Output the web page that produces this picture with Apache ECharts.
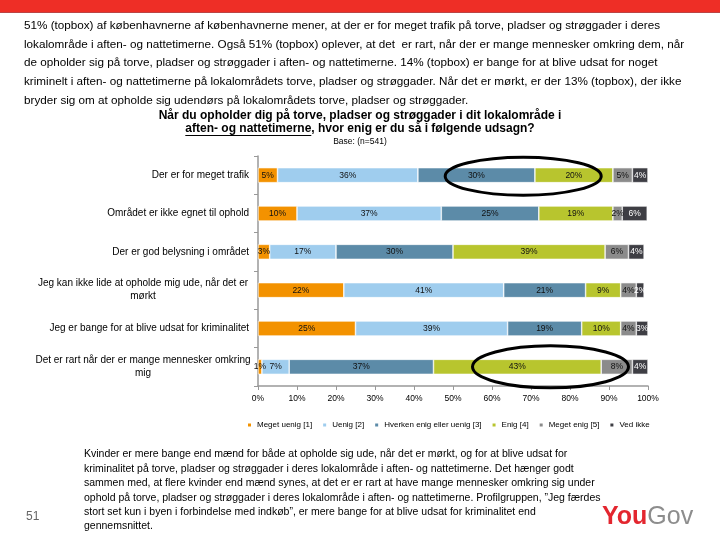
<!DOCTYPE html>
<html>
<head>
<meta charset="utf-8">
<script src="https://cdn.jsdelivr.net/npm/echarts@6/dist/echarts.min.js"></script>
<style>
  html, body { margin: 0; padding: 0; background: #fff; }
  #chart { width: 720px; height: 540px; }
</style>
</head>
<body>
<div id="chart"></div>
<script>
// categories top to bottom
var categories = [
  "Der er for meget trafik",
  "Området er ikke egnet til ophold",
  "Der er god belysning i området",
  "Jeg kan ikke lide at opholde mig ude, når det er\nmørkt",
  "Jeg er bange for at blive udsat for kriminalitet",
  "Det er rart når der er mange mennesker omkring\nmig"
];
var seriesNames = ["Meget uenig [1]", "Uenig [2]", "Hverken enig eller uenig [3]", "Enig [4]", "Meget enig [5]", "Ved ikke"];
var meget_uenig = [5, 10, 3, 22, 25, 1];
var uenig = [36, 37, 17, 41, 39, 7];
var hverken = [30, 25, 30, 21, 19, 37];
var enig = [20, 19, 39, 9, 10, 43];
var meget_enig = [5, 2.4, 6, 4, 4, 8];
var ved_ikke = [4, 6.4, 4, 2, 3, 4];
var xTicks = [0, 10, 20, 30, 40, 50, 60, 70, 80, 90, 100];
// ellipse annotations: [centre value %, category index]
var ringTop = [68, 0];
var ringBottom = [75, 5];

var colors = ["#F39200", "#9FCDEE", "#5C8BA8", "#B8C52E", "#8B8B8B", "#3E3E44"];
var allData = [meget_uenig, uenig, hverken, enig, meget_enig, ved_ikke];

var topText = [
  "51% (topbox) af københavnerne af københavnerne mener, at der er for meget trafik på torve, pladser og strøggader i deres",
  "lokalområde i aften- og nattetimerne. Også 51% (topbox) oplever, at det  er rart, når der er mange mennesker omkring dem, når",
  "de opholder sig på torve, pladser og strøggader i aften- og nattetimerne. 14% (topbox) er bange for at blive udsat for noget",
  "kriminelt i aften- og nattetimerne på lokalområdets torve, pladser og strøggader. Når det er mørkt, er der 13% (topbox), der ikke",
  "bryder sig om at opholde sig udendørs på lokalområdets torve, pladser og strøggader."
];
var bottomText = [
  "Kvinder er mere bange end mænd for både at opholde sig ude, når det er mørkt, og for at blive udsat for",
  "kriminalitet på torve, pladser og strøggader i deres lokalområde i aften- og nattetimerne. Det hænger godt",
  "sammen med, at flere kvinder end mænd synes, at det er er rart at have mange mennesker omkring sig under",
  "ophold på torve, pladser og strøggader i deres lokalområde i aften- og nattetimerne. Profilgruppen, ”Jeg færdes",
  "stort set kun i byen i forbindelse med indkøb”, er mere bange for at blive udsat for kriminalitet end",
  "gennemsnittet."
];
var bodyFont = '"Liberation Sans", sans-serif';
var chartFont = '"Liberation Sans", Arial, sans-serif';

function measure(txt, font) {
  var c = document.createElement("canvas").getContext("2d");
  c.font = font;
  return c.measureText(txt).width;
}

var chart = echarts.init(document.getElementById("chart"));

var series = seriesNames.map(function (name, i) {
  return {
    name: name,
    type: "bar",
    stack: "total",
    barWidth: 15,
    data: allData[i],
    itemStyle: { color: colors[i], borderColor: "#fff", borderWidth: 0.6 },
    label: {
      show: true,
      position: "inside",
      fontSize: 8.5,
      fontFamily: chartFont,
      color: i == 5 ? "#fff" : "#111",
      formatter: function (p) { return Math.round(p.value) + "%"; }
    }
  };
});

// text graphics
var graphics = [
  { type: "rect", shape: { x: 0, y: 0, width: 720, height: 12 }, style: { fill: "#EE2E26" } },
  { type: "rect", shape: { x: 0, y: 12, width: 720, height: 1 }, style: { fill: "#B44" } }
];
topText.forEach(function (t, i) {
  graphics.push({
    type: "text", left: 24, top: 20 + i * 18.6,
    style: { text: t, font: "11.7px " + bodyFont, fill: "#000" }
  });
});
bottomText.forEach(function (t, i) {
  graphics.push({
    type: "text", left: 84, top: 449 + i * 14.4,
    style: { text: t, font: "10.5px " + bodyFont, fill: "#000" }
  });
});

var titleFont = "bold 12px " + chartFont;
var line2 = "aften- og nattetimerne, hvor enig er du så i følgende udsagn?";
var w2 = measure(line2, titleFont);
var wu = measure("aften- og nattetimerne", titleFont);
var l2x = 360 - w2 / 2;
var logoFont = "bold 25px " + chartFont;
graphics.push(
  { type: "text", x: 360, y: 116, style: { text: "Når du opholder dig på torve, pladser og strøggader i dit lokalområde i", font: titleFont, fill: "#000", align: "center", verticalAlign: "middle" } },
  { type: "text", x: 360, y: 129, style: { text: line2, font: titleFont, fill: "#000", align: "center", verticalAlign: "middle" } },
  { type: "line", shape: { x1: l2x, y1: 135.5, x2: l2x + wu, y2: 135.5 }, style: { stroke: "#000", lineWidth: 1 } },
  { type: "text", x: 360, y: 142, style: { text: "Base: (n=541)", font: "8.5px " + chartFont, fill: "#000", align: "center", verticalAlign: "middle" } },
  { type: "text", x: 26, y: 517, style: { text: "51", font: "12px " + bodyFont, fill: "#666", verticalAlign: "middle" } },
  { type: "text", x: 602, y: 517, style: { text: "You", font: logoFont, fill: "#E3262F", verticalAlign: "middle" } },
  { type: "text", x: 602 + measure("You", logoFont), y: 517, style: { text: "Gov", font: "25px " + chartFont, fill: "#8D8D8D", verticalAlign: "middle" } }
);

var option = {
  animation: false,
  backgroundColor: "#fff",
  color: colors,
  textStyle: { fontFamily: chartFont },
  grid: { left: 258, right: 72, top: 156, bottom: 154 },
  legend: {
    left: 241, top: 416,
    icon: "rect", itemWidth: 5, itemHeight: 5, itemGap: 9,
    textStyle: { fontSize: 8, color: "#000", fontFamily: chartFont },
    data: seriesNames
  },
  xAxis: {
    type: "value", min: 0, max: 100, interval: 10,
    axisLine: { show: true, lineStyle: { color: "#999", width: 1.5 } },
    axisTick: { show: true, length: 4, lineStyle: { color: "#999" } },
    splitLine: { show: false },
    axisLabel: {
      fontSize: 8.5, color: "#000", margin: 8,
      formatter: function (v) { return xTicks.indexOf(v) >= 0 ? v + "%" : ""; }
    }
  },
  yAxis: {
    type: "category", inverse: true, data: categories,
    axisLine: { show: true, lineStyle: { color: "#999", width: 1.5 } },
    axisTick: { show: true, length: 4, lineStyle: { color: "#999" } },
    axisLabel: {
      fontSize: 10, color: "#000", margin: 9, lineHeight: 13,
      formatter: function (v) {
        if (v.indexOf("\n") < 0) return v;
        return v.split("\n").map(function (s) { return "{c|" + s + "}"; }).join("\n");
      },
      rich: { c: { width: 212, align: "center", fontSize: 10, lineHeight: 13 } }
    }
  },
  series: series,
  graphic: graphics
};
chart.setOption(option);

// rings drawn on top of bars
var p1 = chart.convertToPixel({ gridIndex: 0 }, ringTop);
var p2 = chart.convertToPixel({ gridIndex: 0 }, ringBottom);
graphics.push(
  { type: "ellipse", shape: { cx: p1[0], cy: p1[1] + 1, rx: 78, ry: 19 }, style: { fill: "none", stroke: "#000", lineWidth: 3 }, z: 100 },
  { type: "ellipse", shape: { cx: p2[0], cy: p2[1], rx: 78, ry: 21 }, style: { fill: "none", stroke: "#000", lineWidth: 3 }, z: 100 }
);
chart.setOption({ graphic: graphics }, { replaceMerge: ["graphic"] });
</script>
</body>
</html>
